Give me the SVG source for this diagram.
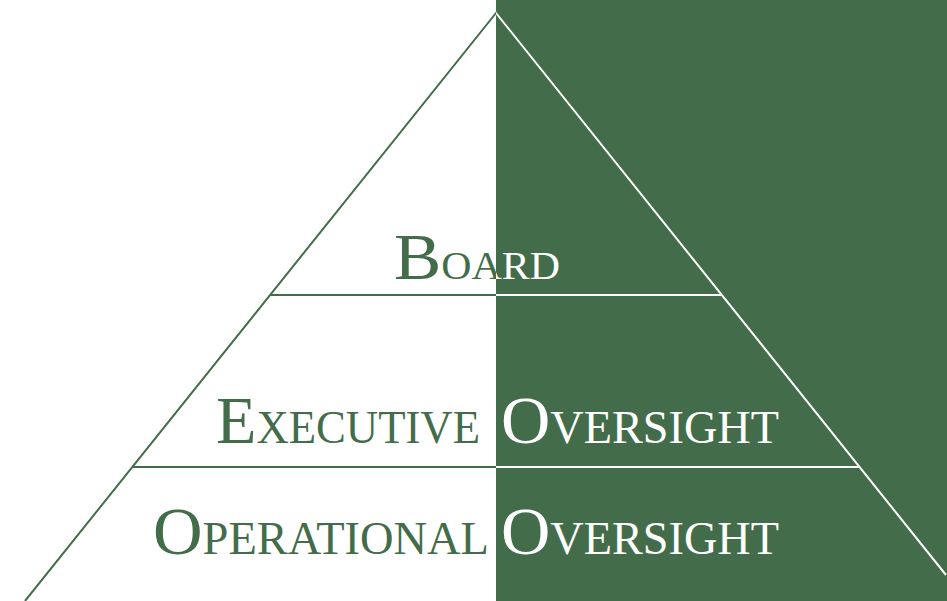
<svg xmlns="http://www.w3.org/2000/svg" width="947" height="601" viewBox="0 0 947 601">
  <style>
    .lbl { font-family: "Liberation Serif", "Times New Roman", serif; }
    .cap { font-size: 68px; }
    .sc { font-size: 46px; }
    .cap-b { font-size: 66px; }
    .sc-b { font-size: 39px; }
    .edge { fill: none; stroke-width: 2; }
  </style>
  <defs>
    <clipPath id="leftHalf"><rect x="0" y="0" width="496" height="601"/></clipPath>
    <clipPath id="rightHalf"><rect x="496" y="0" width="451" height="601"/></clipPath>
    <!-- pyramid outline and tier dividers -->
    <g id="pyramidLines">
      <path d="M25,601 L496,13 L946,575"/>
      <path d="M270,295 L722,295"/>
      <path d="M133,467 L859,467"/>
    </g>
    <g id="labels">
      <text id="t-board" class="lbl" x="394" y="279" textLength="166" lengthAdjust="spacingAndGlyphs"><tspan class="cap-b">B</tspan><tspan class="sc-b">OARD</tspan></text>
      <text id="t-exec" class="lbl" x="216" y="443" textLength="264" lengthAdjust="spacingAndGlyphs"><tspan class="cap">E</tspan><tspan class="sc">XECUTIVE</tspan></text>
      <text id="t-exec-ov" class="lbl" x="501" y="443" textLength="278" lengthAdjust="spacingAndGlyphs"><tspan class="cap">O</tspan><tspan class="sc">VERSIGHT</tspan></text>
      <text id="t-op" class="lbl" x="153" y="554" textLength="336" lengthAdjust="spacingAndGlyphs"><tspan class="cap">O</tspan><tspan class="sc">PERATIONAL</tspan></text>
      <text id="t-op-ov" class="lbl" x="501" y="554" textLength="278" lengthAdjust="spacingAndGlyphs"><tspan class="cap">O</tspan><tspan class="sc">VERSIGHT</tspan></text>
    </g>
  </defs>

  <!-- background: white left half, green right half -->
  <rect x="0" y="0" width="947" height="601" fill="#ffffff"/>
  <rect x="496" y="0" width="451" height="601" fill="#436D4A"/>

  <!-- connectors: pyramid lines, green on white, white on green -->
  <g id="connectors">
    <use href="#pyramidLines" class="edge" stroke="#436D4A" clip-path="url(#leftHalf)"/>
    <use href="#pyramidLines" class="edge" stroke="#ffffff" clip-path="url(#rightHalf)"/>
  </g>

  <!-- tier labels, colour inverted across the split -->
  <g id="node-board-tier">
    <use href="#t-board" fill="#436D4A" clip-path="url(#leftHalf)"/>
    <use href="#t-board" fill="#ffffff" clip-path="url(#rightHalf)"/>
  </g>
  <g id="node-executive-tier">
    <use href="#t-exec" fill="#436D4A" clip-path="url(#leftHalf)"/>
    <use href="#t-exec-ov" fill="#ffffff" clip-path="url(#rightHalf)"/>
  </g>
  <g id="node-operational-tier">
    <use href="#t-op" fill="#436D4A" clip-path="url(#leftHalf)"/>
    <use href="#t-op-ov" fill="#ffffff" clip-path="url(#rightHalf)"/>
  </g>
</svg>
